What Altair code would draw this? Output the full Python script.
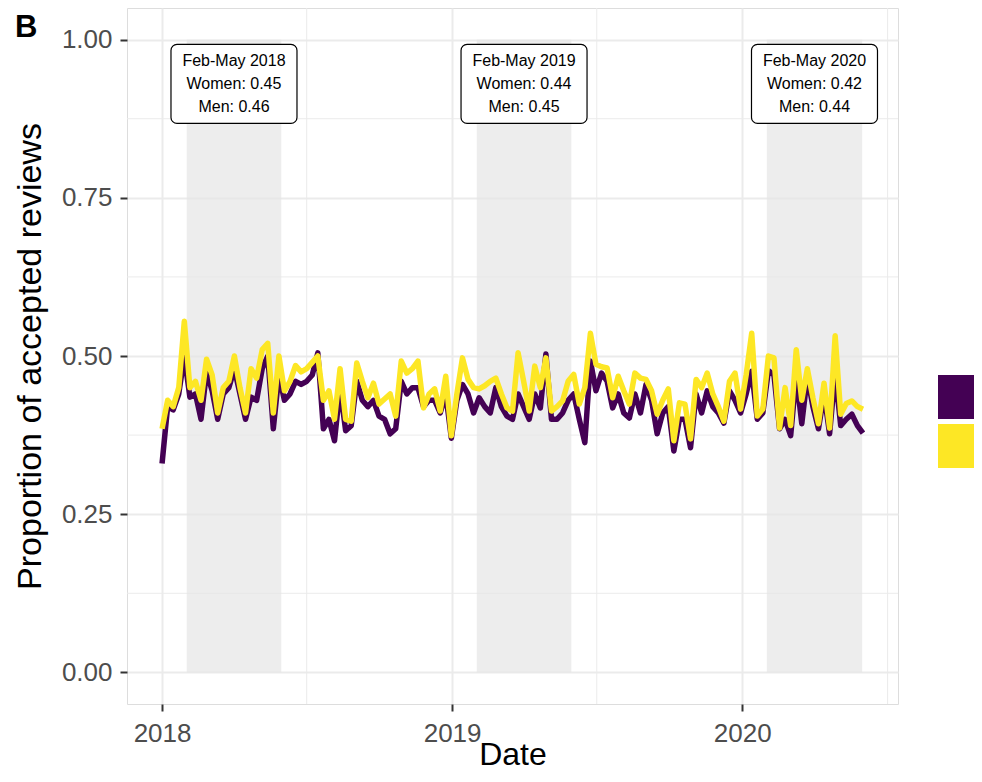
import altair as alt
import pandas as pd

# ---------------- data ----------------
start_date = "2018-01-01"          # first weekly observation
groups = ["Women", "Men"]
colors = ["#440154", "#FDE725"]

men = [0.385, 0.43, 0.42, 0.45, 0.555, 0.45, 0.46, 0.43, 0.495, 0.47,
       0.41, 0.45, 0.46, 0.50, 0.45, 0.41, 0.48, 0.465, 0.51, 0.52,
       0.41, 0.50, 0.445, 0.46, 0.485, 0.475, 0.48, 0.49, 0.50, 0.43,
       0.445, 0.40, 0.48, 0.40, 0.397, 0.489, 0.46, 0.434, 0.457, 0.424,
       0.432, 0.44, 0.405, 0.492, 0.473, 0.48, 0.492, 0.418, 0.44, 0.448,
       0.413, 0.468, 0.374, 0.44, 0.497, 0.463, 0.45, 0.448, 0.453, 0.46,
       0.465, 0.44, 0.418, 0.413, 0.505, 0.46, 0.413, 0.484, 0.45, 0.497,
       0.413, 0.42, 0.429, 0.46, 0.471, 0.424, 0.45, 0.536, 0.487, 0.483,
       0.481, 0.434, 0.468, 0.445, 0.424, 0.473, 0.465, 0.463, 0.445, 0.408,
       0.43, 0.448, 0.366, 0.426, 0.424, 0.369, 0.463, 0.45, 0.473, 0.44,
       0.42, 0.397, 0.46, 0.473, 0.416, 0.47, 0.536, 0.405, 0.416, 0.50,
       0.497, 0.386, 0.45, 0.39, 0.51, 0.43, 0.48, 0.434, 0.393, 0.457,
       0.386, 0.532, 0.408, 0.425, 0.429, 0.42, 0.416]

women = [0.33, 0.42, 0.415, 0.44, 0.50, 0.435, 0.44, 0.40, 0.475, 0.445,
         0.40, 0.44, 0.45, 0.48, 0.44, 0.40, 0.435, 0.43, 0.48, 0.50,
         0.385, 0.47, 0.43, 0.44, 0.46, 0.455, 0.46, 0.47, 0.505, 0.385,
         0.40, 0.366, 0.45, 0.382, 0.39, 0.46, 0.43, 0.42, 0.43, 0.405,
         0.40, 0.377, 0.385, 0.46, 0.44, 0.45, 0.45, 0.42, 0.43, 0.43,
         0.41, 0.44, 0.37, 0.43, 0.455, 0.44, 0.41, 0.434, 0.42, 0.41,
         0.45, 0.42, 0.405, 0.40, 0.44, 0.42, 0.40, 0.44, 0.418, 0.503,
         0.40, 0.40, 0.41, 0.43, 0.44, 0.40, 0.363, 0.492, 0.445, 0.473,
         0.46, 0.418, 0.44, 0.41, 0.402, 0.44, 0.41, 0.455, 0.43, 0.377,
         0.41, 0.42, 0.35, 0.40, 0.40, 0.355, 0.44, 0.41, 0.445, 0.42,
         0.41, 0.394, 0.445, 0.43, 0.41, 0.44, 0.476, 0.40, 0.41, 0.477,
         0.47, 0.385, 0.40, 0.374, 0.47, 0.393, 0.468, 0.42, 0.385, 0.44,
         0.377, 0.473, 0.39, 0.40, 0.408, 0.39, 0.378]

years = [2018, 2019, 2020]
women_avg = [0.45, 0.44, 0.42]
men_avg = [0.46, 0.45, 0.44]
shade_start = ["2018-02-01", "2019-02-01", "2020-02-01"]
shade_end = ["2018-05-31", "2019-05-31", "2020-05-31"]
label_y = 0.93

y_ticks = [0.0, 0.25, 0.5, 0.75, 1.0]
y_minor = [0.125, 0.375, 0.625, 0.875]
x_minor = ["2018-07-02", "2019-07-02", "2020-07-02"]

# ---------------- tables ----------------
dates = pd.date_range(start_date, periods=len(men), freq="7D")
df_w = pd.DataFrame({"date": dates, "value": women, "group": "Women"})
df_m = pd.DataFrame({"date": dates, "value": men, "group": "Men"})

df_shade = pd.DataFrame({"start": pd.to_datetime(shade_start),
                         "end": pd.to_datetime(shade_end)})
df_lab = pd.DataFrame({
    "mid": df_shade["start"] + (df_shade["end"] - df_shade["start"]) / 2,
    "y": label_y,
    "text": [f"Feb-May {y}\nWomen: {w:.2f}\nMen: {m:.2f}"
             for y, w, m in zip(years, women_avg, men_avg)],
})
df_ymin = pd.DataFrame({"v": y_minor})
df_xmin = pd.DataFrame({"d": pd.to_datetime(x_minor)})

span = dates.max() - dates.min()
lo = dates.min() - 0.05 * span
hi = dates.max() + 0.05 * span


def dt(t):
    return alt.DateTime(year=t.year, month=t.month, date=t.day, hours=t.hour)


FONT = "Liberation Sans"

xscale = alt.Scale(domain=[dt(lo), dt(hi)], nice=False)
yscale = alt.Scale(domain=[-0.05, 1.05], nice=False, zero=False)

xaxis = alt.Axis(values=[alt.DateTime(year=y, month=1, date=1) for y in years],
                 format="%Y", title="Date", titleFontSize=32,
                 titleFontWeight="normal", titleColor="black", titlePadding=-7,
                 labelFontSize=26, labelColor="#4D4D4D", labelPadding=9,
                 tickSize=7, tickWidth=2, tickColor="#333333", domain=False,
                 grid=True, gridColor="#EBEBEB", gridWidth=2)
yaxis = alt.Axis(values=y_ticks, format=".2f",
                 title="Proportion of accepted reviews", titleFontSize=34,
                 titleFontWeight="normal", titleColor="black", titlePadding=14,
                 labelFontSize=26, labelColor="#4D4D4D", labelPadding=8,
                 tickSize=7, tickWidth=2, tickColor="#333333", domain=False,
                 grid=True, gridColor="#EBEBEB", gridWidth=2)

legend = alt.Legend(title=None, orient="none", legendX=811, legendY=366,
                    symbolType="square", symbolSize=484, symbolStrokeWidth=22,
                    labelFontSize=26, labelFont=FONT, rowPadding=3, padding=0,
                    clipHeight=46, labelOffset=20)

X = alt.X("date:T", scale=xscale, axis=xaxis)
Y = alt.Y("value:Q", scale=yscale, axis=yaxis)
color = alt.Color("group:N", scale=alt.Scale(domain=groups, range=colors),
                  legend=legend, sort=groups)

minor_h = alt.Chart(df_ymin).mark_rule(color="#EBEBEB", strokeWidth=1).encode(
    y=alt.Y("v:Q", scale=yscale, axis=yaxis))
minor_v = alt.Chart(df_xmin).mark_rule(color="#EBEBEB", strokeWidth=1).encode(
    x=alt.X("d:T", scale=xscale, axis=xaxis))

shade = alt.Chart(df_shade).mark_rect(color="#E5E5E5", opacity=0.7).encode(
    x=alt.X("start:T", scale=xscale, axis=xaxis), x2="end:T",
    y=alt.Y(datum=0, scale=yscale, axis=yaxis), y2=alt.datum(1))

line_w = alt.Chart(df_w).mark_line(strokeWidth=5.5, strokeJoin="round").encode(
    x=X, y=Y, color=color)
line_m = alt.Chart(df_m).mark_line(strokeWidth=5.5, strokeJoin="round").encode(
    x=X, y=Y, color=color)

boxes = alt.Chart(df_lab).mark_rect(width=126, height=79, cornerRadius=6,
                                    fill="white", stroke="black",
                                    strokeWidth=1.2).encode(
    x=alt.X("mid:T", scale=xscale, axis=xaxis),
    y=alt.Y("y:Q", scale=yscale, axis=yaxis))
texts = alt.Chart(df_lab).mark_text(lineBreak="\n", fontSize=16, lineHeight=23,
                                    font=FONT, color="black", align="center",
                                    baseline="middle", dy=-23).encode(
    x=alt.X("mid:T", scale=xscale, axis=xaxis),
    y=alt.Y("y:Q", scale=yscale, axis=yaxis),
    text="text:N")

panel = alt.Chart(pd.DataFrame({"t": ["B"]})).mark_text(
    align="left", baseline="alphabetic", fontSize=31, fontWeight="bold",
    font=FONT, color="black").encode(x=alt.value(-112), y=alt.value(29), text="t:N")

chart = alt.layer(minor_h, minor_v, shade, line_w, line_m, boxes, texts,
                  panel).properties(
    width=771, height=696,
    autosize=alt.AutoSizeParams(type="none"),
    padding={"left": 119, "top": 0, "right": 76, "bottom": 66},
).configure_view(stroke="#333333", strokeWidth=1.2).configure(font=FONT)

chart.save("out.html", embed_options={"renderer": "svg", "actions": False})
